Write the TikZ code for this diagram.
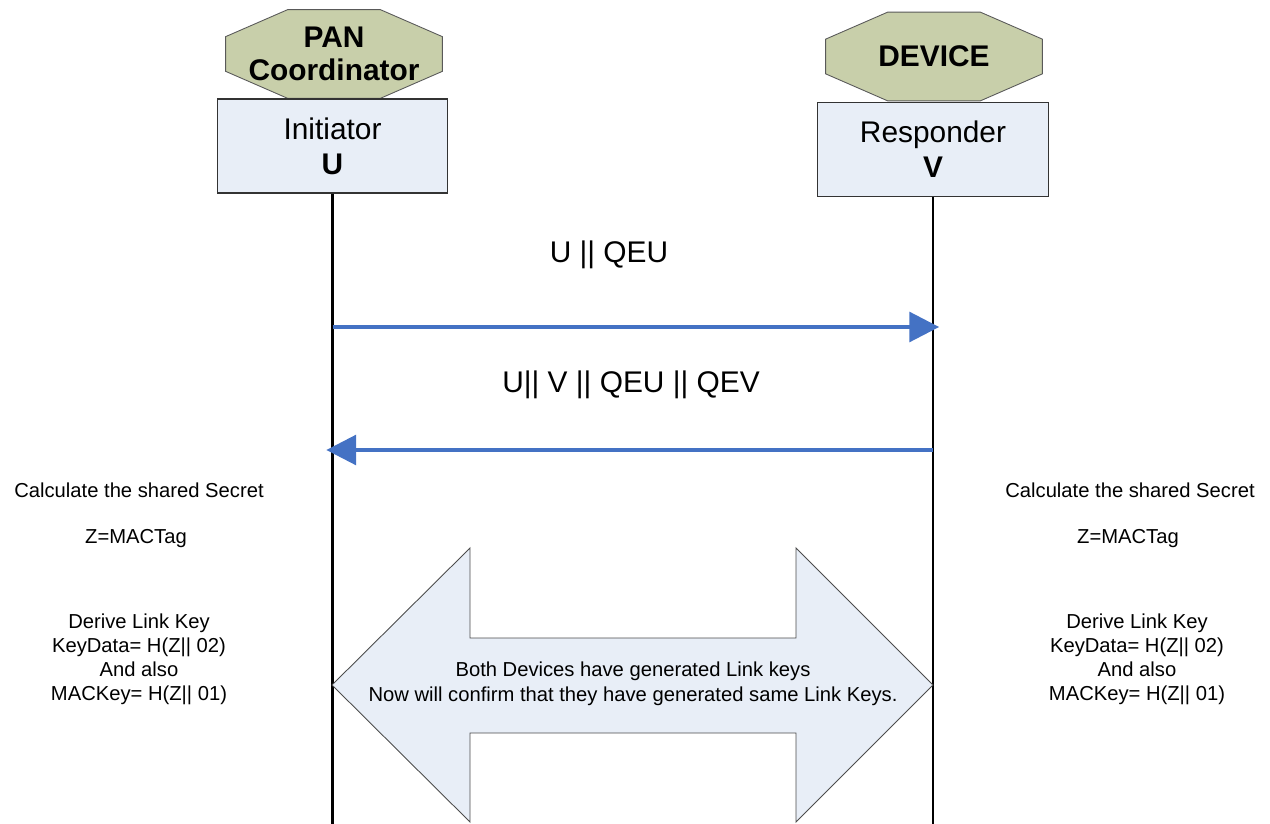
\documentclass[tikz,border=0pt]{standalone}
\usepackage{fontspec}
\setmainfont{Liberation Sans}
\usetikzlibrary{arrows.meta,backgrounds,positioning}
\definecolor{octfill}{RGB}{200,207,170}
\definecolor{boxfill}{RGB}{232,238,247}
\definecolor{msgblue}{RGB}{68,114,196}

\tikzset{
  role/.style={rectangle, minimum width=216*0.02cm, minimum height=88*0.02cm,
    inner sep=0pt, align=center, font=\fontsize{17}{19}\selectfont\bfseries},
  octo/.style={draw=gray!70!black, line width=0.5pt, fill=octfill},
  part/.style={rectangle, draw=black!80, line width=0.6pt, fill=boxfill,
    minimum width=131pt, minimum height=53.5pt, inner sep=0pt,
    align=center, font=\fontsize{17}{20}\selectfont},
  lifeline/.style={line width=1.2pt},
  msg/.style={draw=msgblue, line width=2pt,
    -{Triangle[length=17pt,width=17pt]}, shorten >=-3.5pt},
  msglabel/.style={font=\fontsize{17}{20}\selectfont},
  note/.style={align=center, inner sep=0pt,
    font=\fontsize{11.5}{13.6}\selectfont},
  bigarrow/.style={draw=gray!60!black, line width=0.5pt, fill=boxfill}
}

\begin{document}
\begin{tikzpicture}[x=0.02cm, y=-0.02cm]
  \useasboundingbox (0,0) rectangle (1270,824);

  % actors
  \node[role] (pan) at (334,54) {PAN\\Coordinator};
  \node[role] (dev) at (934,56.5) {DEVICE};
  \begin{scope}[on background layer]
    \foreach \n in {pan,dev}
      \draw[octo] ([xshift=1.24cm]\n.north west) -- ([xshift=-1.24cm]\n.north east)
        -- ([yshift=-0.54cm]\n.north east) -- ([yshift=0.54cm]\n.south east)
        -- ([xshift=-1.24cm]\n.south east) -- ([xshift=1.24cm]\n.south west)
        -- ([yshift=0.54cm]\n.south west) -- ([yshift=-0.54cm]\n.north west) -- cycle;
  \end{scope}
  \node[part] (ini) at (332.5,146) {Initiator\\\textbf{U}};
  \node[part] (res) at (933,149.5) {Responder\\\textbf{V}};

  % lifelines
  \coordinate (iniend) at (ini.south |- 0,824);
  \coordinate (resend) at (res.south |- 0,824);
  \draw[lifeline] (ini.south) -- (iniend);
  \draw[lifeline] (res.south) -- (resend);

  % shared link key arrow
  \draw[bigarrow] (332,685) -- (470,548) -- (470,638) -- (796,638)
        -- (796,548) -- (933,685) -- (796,822) -- (796,733)
        -- (470,733) -- (470,822) -- cycle;
  \node[note, font=\fontsize{11.5}{14.5}\selectfont] (both) at (633,684)
        {Both Devices have generated Link keys\\Now will confirm that they have generated same Link Keys.};

  % messages
  \coordinate (m1a) at (ini.south |- 0,327);
  \coordinate (m1b) at (res.south |- 0,327);
  \coordinate (m2a) at (res.south |- 0,450);
  \coordinate (m2b) at (ini.south |- 0,450);
  \draw[msg] (m1a) -- (m1b);
  \draw[msg] (m2a) -- (m2b);
  \node[msglabel] (l1) at (609,255) {U || QEU};
  \node[msglabel] (l2) at (631,385) {U|| V || QEU || QEV};

  % computations on each side
  \node[note] (calcu) at (139,490) {Calculate the shared Secret};
  \node[note] (tagu) at (136,539) {Z=MACTag};
  \node[note] (keyu) at (139,659) {Derive Link Key\\KeyData= H(Z|| 02)\\And also\\MACKey= H(Z|| 01)};
  \node[note] (calcv) at (1130,490) {Calculate the shared Secret};
  \node[note] (tagv) at (1128,539) {Z=MACTag};
  \node[note] (keyv) at (1137,659) {Derive Link Key\\KeyData= H(Z|| 02)\\And also\\MACKey= H(Z|| 01)};
\end{tikzpicture}
\end{document}
